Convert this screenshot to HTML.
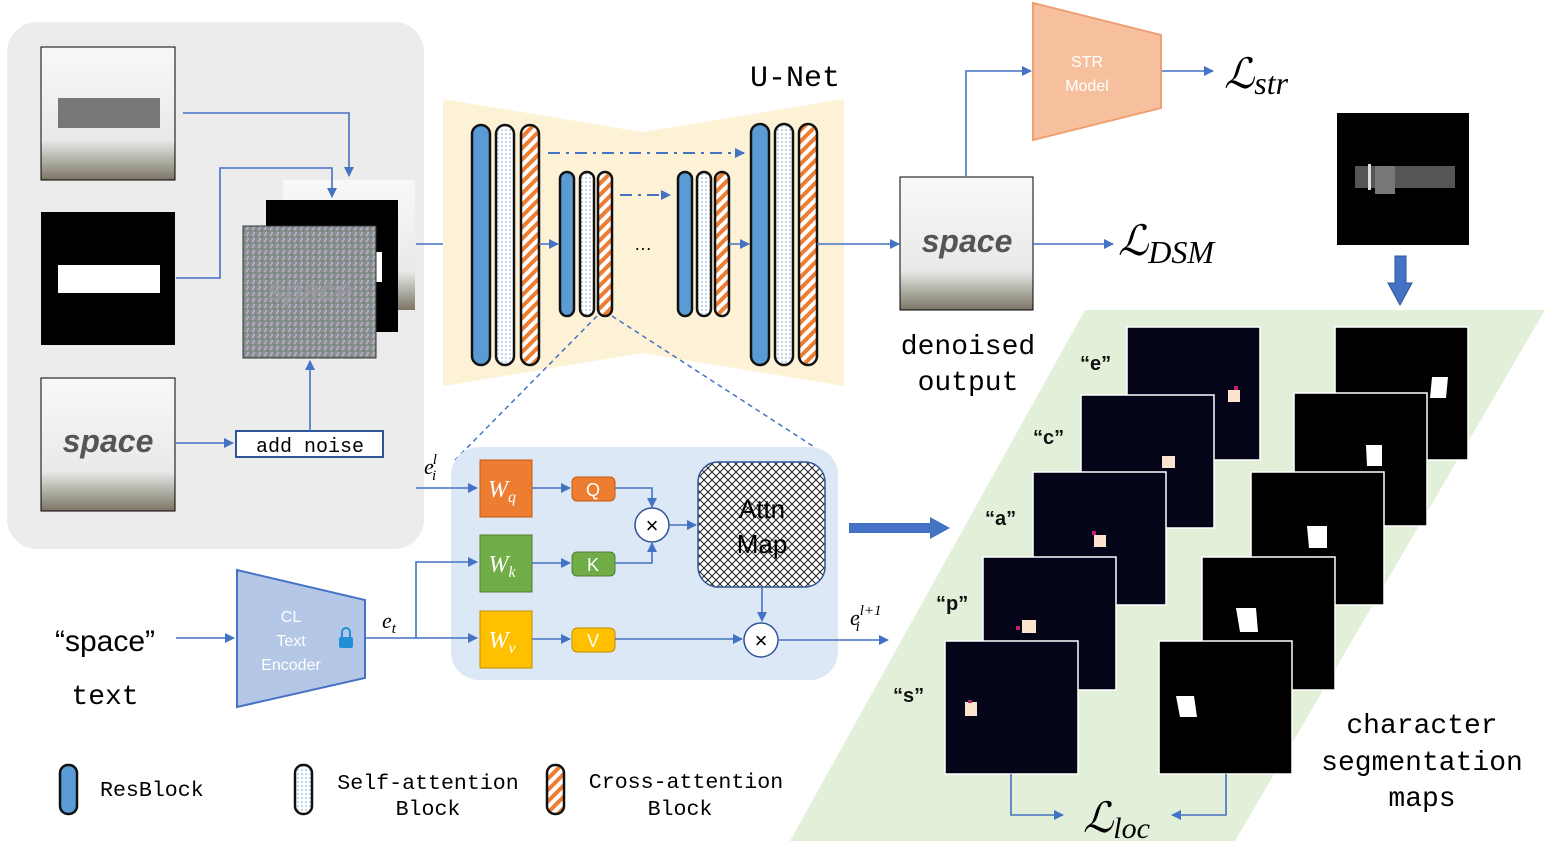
<!DOCTYPE html>
<html><head><meta charset="utf-8"><style>
body{margin:0;background:#fff;width:1545px;height:846px;overflow:hidden}
svg text{font-family:"Liberation Sans",sans-serif}
.mono{font-family:"Liberation Mono","DejaVu Sans Mono",monospace}
.ser{font-family:"Liberation Serif",serif;font-style:italic}
</style></head><body>
<svg width="1545" height="846" viewBox="0 0 1545 846" xmlns="http://www.w3.org/2000/svg">
<defs>
<pattern id="dots" width="4" height="4" patternUnits="userSpaceOnUse"><rect width="4" height="4" fill="#fff"/><circle cx="2" cy="2" r="0.8" fill="#7aa6d8"/></pattern>
<pattern id="stripe" width="8" height="8" patternUnits="userSpaceOnUse" patternTransform="rotate(45)"><rect width="8" height="8" fill="#fff"/><rect width="4" height="8" fill="#ed7d31"/></pattern>
<pattern id="hatch" width="8" height="8" patternUnits="userSpaceOnUse"><rect width="8" height="8" fill="#fff"/><path d="M0 0L8 8M8 0L0 8" stroke="#222" stroke-width="1"/></pattern>
<pattern id="noise" width="6" height="6" patternUnits="userSpaceOnUse"><rect width="6" height="6" fill="#8a8f8e"/><rect x="0" y="0" width="2" height="2" fill="#b9a7c4"/><rect x="3" y="2" width="2" height="2" fill="#6f8a7a"/><rect x="1" y="4" width="2" height="2" fill="#a6b0c8"/></pattern>
<linearGradient id="photo" x1="0" y1="0" x2="0" y2="1"><stop offset="0" stop-color="#f8f8f8"/><stop offset="0.7" stop-color="#e8eaea"/><stop offset="0.85" stop-color="#b0b2a6"/><stop offset="1" stop-color="#7d7466"/></linearGradient>
<marker id="ar" markerWidth="10" markerHeight="10" refX="9" refY="5" orient="auto" markerUnits="userSpaceOnUse"><path d="M0,0L10,5L0,10z" fill="#4472c4"/></marker>
</defs>

<rect x="7" y="22" width="417" height="527" rx="30" fill="#ececec"/>
<rect x="41" y="47" width="134" height="133" fill="url(#photo)" stroke="#000"/>
<rect x="58" y="98" width="102" height="30" fill="#777"/>
<rect x="41" y="212" width="134" height="133" fill="#000"/>
<rect x="58" y="265" width="102" height="28" fill="#fff"/>
<rect x="41" y="378" width="134" height="133" fill="url(#photo)" stroke="#000"/>
<text x="108" y="452" text-anchor="middle" font-size="32" font-weight="bold" font-style="italic" fill="#555">space</text>
<rect x="283" y="180" width="132" height="130" fill="url(#photo)"/>
<rect x="266" y="200" width="132" height="132" fill="#000"/>
<rect x="376" y="252" width="6" height="30" fill="#fff"/>
<rect x="243" y="226" width="133" height="132" fill="url(#noise)" stroke="#333"/>
<text x="310" y="300" text-anchor="middle" font-size="30" font-weight="bold" font-style="italic" fill="#9a9aa0" opacity="0.8">space</text>
<rect x="236" y="431" width="147" height="26" fill="#fff" stroke="#2f5597" stroke-width="2"/>
<text x="310" y="452" class="mono" text-anchor="middle" font-size="20">add noise</text>
<g stroke="#4472c4" stroke-width="1.6" fill="none">
<path d="M183 113H349V176" marker-end="url(#ar)"/>
<path d="M176 278H220V168H332V197" marker-end="url(#ar)"/>
<path d="M176 443H233" marker-end="url(#ar)"/>
<path d="M310 431V361" marker-end="url(#ar)"/>
<path d="M416 244H468" marker-end="url(#ar)"/>
</g>

<path d="M443 99L642 132L844 99V386L642 353L443 386Z" fill="#fdf2d5"/>
<text x="795" y="86" class="mono" text-anchor="middle" font-size="30">U-Net</text>
<g stroke="#111" stroke-width="2.5">
<rect x="472" y="125" width="18" height="240" rx="9" fill="#5b9bd5"/>
<rect x="496" y="125" width="18" height="240" rx="9" fill="url(#dots)"/>
<rect x="521" y="125" width="18" height="240" rx="9" fill="url(#stripe)"/>
<rect x="560" y="172" width="14" height="144" rx="7" fill="#5b9bd5"/>
<rect x="580" y="172" width="14" height="144" rx="7" fill="url(#dots)"/>
<rect x="598" y="172" width="14" height="144" rx="7" fill="url(#stripe)"/>
<rect x="678" y="172" width="14" height="144" rx="7" fill="#5b9bd5"/>
<rect x="697" y="172" width="14" height="144" rx="7" fill="url(#dots)"/>
<rect x="715" y="172" width="14" height="144" rx="7" fill="url(#stripe)"/>
<rect x="751" y="124" width="18" height="241" rx="9" fill="#5b9bd5"/>
<rect x="775" y="124" width="18" height="241" rx="9" fill="url(#dots)"/>
<rect x="799" y="124" width="18" height="241" rx="9" fill="url(#stripe)"/>
</g>
<text x="643" y="250" text-anchor="middle" font-size="18">…</text>
<g stroke="#4472c4" stroke-width="2" fill="none">
<path d="M548 153H744" stroke-dasharray="12,6,3,6" marker-end="url(#ar)"/>
<path d="M620 195H670" stroke-dasharray="12,6,3,6" marker-end="url(#ar)"/>
<path d="M539 244H558" marker-end="url(#ar)" stroke-width="1.6"/>
<path d="M729 244H749" marker-end="url(#ar)" stroke-width="1.6"/>
<path d="M817 244H899" marker-end="url(#ar)" stroke-width="1.6"/>
<path d="M597 316L455 460" stroke-dasharray="5,4" stroke-width="1.5"/>
<path d="M612 316L822 452" stroke-dasharray="5,4" stroke-width="1.5"/>
</g>

<rect x="900" y="177" width="133" height="133" fill="url(#photo)" stroke="#000"/>
<text x="967" y="252" text-anchor="middle" font-size="32" font-weight="bold" font-style="italic" fill="#555">space</text>
<text x="968" y="354" class="mono" text-anchor="middle" font-size="28">denoised</text>
<text x="968" y="390" class="mono" text-anchor="middle" font-size="28">output</text>
<g stroke="#4472c4" stroke-width="1.6" fill="none">
<path d="M966 177V71H1031" marker-end="url(#ar)"/>
<path d="M1161 71H1213" marker-end="url(#ar)"/>
<path d="M1033 244H1113" marker-end="url(#ar)"/>
</g>
<path d="M1033 3L1161 35V108L1033 140Z" fill="#f6c09f" stroke="#f0a070" stroke-width="2"/>
<text x="1087" y="67" text-anchor="middle" font-size="16" fill="#fff">STR</text>
<text x="1087" y="91" text-anchor="middle" font-size="16" fill="#fff">Model</text>
<text x="1224" y="88" class="ser" font-size="42">ℒ<tspan font-size="32" dy="6">str</tspan></text>
<text x="1118" y="255" class="ser" font-size="42">ℒ<tspan font-size="32" dy="8">DSM</tspan></text>

<rect x="1337" y="113" width="132" height="132" fill="#000"/>
<rect x="1355" y="166" width="100" height="22" fill="#555"/>
<rect x="1375" y="166" width="20" height="28" fill="#777"/>
<rect x="1368" y="164" width="3" height="26" fill="#ddd"/>
<path d="M1395 256H1406V283H1412L1400 305L1388 283H1395Z" fill="#4472c4" stroke="#2f5597"/>

<path d="M1085 310H1545L1235 841H790Z" fill="#e2efd9"/>
<g stroke="#fff" stroke-width="1.5">
<rect x="1127" y="327" width="133" height="133" fill="#05051a"/>
<rect x="1081" y="395" width="133" height="133" fill="#05051a"/>
<rect x="1033" y="472" width="133" height="133" fill="#05051a"/>
<rect x="983" y="557" width="133" height="133" fill="#05051a"/>
<rect x="945" y="641" width="133" height="133" fill="#05051a"/>
<rect x="1335" y="327" width="133" height="133" fill="#000"/>
<rect x="1294" y="393" width="133" height="133" fill="#000"/>
<rect x="1251" y="472" width="133" height="133" fill="#000"/>
<rect x="1202" y="557" width="133" height="133" fill="#000"/>
<rect x="1159" y="641" width="133" height="133" fill="#000"/>
</g>
<g fill="#fbe3d0">
<rect x="1228" y="390" width="12" height="12"/><rect x="1162" y="456" width="13" height="12"/>
<rect x="1094" y="535" width="12" height="12"/><rect x="1022" y="620" width="14" height="13"/>
<rect x="965" y="702" width="12" height="14"/>
</g>
<g fill="#c0206a"><rect x="1234" y="386" width="4" height="4"/><rect x="1092" y="531" width="4" height="4"/><rect x="1016" y="626" width="4" height="4"/><rect x="968" y="700" width="4" height="3"/></g>
<g fill="#fff">
<path d="M1432 377H1448L1446 398H1430Z"/><path d="M1366 445H1382V466H1367Z"/>
<path d="M1307 526H1327V548H1309Z"/><path d="M1236 608H1256L1258 632H1240Z"/>
<path d="M1176 696H1194L1197 717H1180Z"/>
</g>
<g font-weight="bold" font-size="20" fill="#111">
<text x="1080" y="370">“e”</text><text x="1033" y="444">“c”</text>
<text x="985" y="525">“a”</text><text x="936" y="610">“p”</text><text x="893" y="702">“s”</text>
</g>
<g font-size="28" text-anchor="middle">
<text x="1422" y="733" class="mono">character</text>
<text x="1422" y="770" class="mono">segmentation</text>
<text x="1422" y="806" class="mono">maps</text>
</g>
<g stroke="#4472c4" stroke-width="1.6" fill="none">
<path d="M1011 774V815H1063" marker-end="url(#ar)"/>
<path d="M1226 774V815H1172" marker-end="url(#ar)"/>
</g>
<text x="1083" y="832" class="ser" font-size="42">ℒ<tspan font-size="30" dy="6">loc</tspan></text>

<path d="M849 523H930V517L950 528L930 539V533H849Z" fill="#4472c4"/>

<rect x="451" y="447" width="387" height="233" rx="28" fill="#dce8f5"/>
<rect x="480" y="460" width="52" height="57" fill="#ed7d31" stroke="#c55a11"/>
<rect x="480" y="535" width="52" height="57" fill="#70ad47" stroke="#507e32"/>
<rect x="480" y="611" width="52" height="57" fill="#ffc000" stroke="#bf9000"/>
<g font-size="24" fill="#fff" text-anchor="middle">
<text x="502" y="497" class="ser">W<tspan font-size="16" dy="5">q</tspan></text>
<text x="502" y="572" class="ser">W<tspan font-size="16" dy="5">k</tspan></text>
<text x="502" y="648" class="ser">W<tspan font-size="16" dy="5">v</tspan></text>
</g>
<rect x="572" y="477" width="43" height="24" rx="5" fill="#ed7d31" stroke="#c55a11"/>
<rect x="572" y="552" width="43" height="24" rx="5" fill="#70ad47" stroke="#507e32"/>
<rect x="572" y="628" width="43" height="24" rx="5" fill="#ffc000" stroke="#bf9000"/>
<g fill="#fff" font-size="18" text-anchor="middle"><text x="593" y="496">Q</text><text x="593" y="571">K</text><text x="593" y="647">V</text></g>
<rect x="698" y="462" width="127" height="125" rx="20" fill="url(#hatch)" stroke="#2f5597" stroke-width="1.5"/>
<text x="762" y="518" text-anchor="middle" font-size="26">Attn</text>
<text x="762" y="553" text-anchor="middle" font-size="26">Map</text>
<g stroke="#4472c4" stroke-width="1.6" fill="none">
<path d="M416 488H477" marker-end="url(#ar)"/>
<path d="M532 488H570" marker-end="url(#ar)"/>
<path d="M532 563H570" marker-end="url(#ar)"/>
<path d="M532 639H570" marker-end="url(#ar)"/>
<path d="M615 488H652V507" marker-end="url(#ar)"/>
<path d="M615 563H652V543" marker-end="url(#ar)"/>
<path d="M669 525H696" marker-end="url(#ar)"/>
<path d="M615 639H742" marker-end="url(#ar)"/>
<path d="M762 587V621" marker-end="url(#ar)"/>
<path d="M779 640H888" marker-end="url(#ar)"/>
<path d="M366 638H477" marker-end="url(#ar)"/>
<path d="M416 638V562H477" marker-end="url(#ar)"/>
<path d="M176 638H234" marker-end="url(#ar)"/>
</g>
<circle cx="652" cy="525" r="17" fill="#fff" stroke="#2f5597" stroke-width="1.5"/>
<text x="652" y="533" text-anchor="middle" font-size="22">×</text>
<circle cx="761" cy="640" r="17" fill="#fff" stroke="#2f5597" stroke-width="1.5"/>
<text x="761" y="648" text-anchor="middle" font-size="22">×</text>
<text x="424" y="474" class="ser" font-size="22">e<tspan font-size="15" dx="-1" dy="-10">l</tspan><tspan font-size="15" dx="-5" dy="16">i</tspan></text>
<text x="850" y="625" class="ser" font-size="22">e<tspan font-size="15" dy="-10">l+1</tspan><tspan font-size="15" dx="-26" dy="16">i</tspan></text>
<text x="382" y="628" class="ser" font-size="22">e<tspan font-size="15" dy="5">t</tspan></text>

<path d="M237 570L365 600V678L237 707Z" fill="#b4c7e7" stroke="#4472c4" stroke-width="2"/>
<g fill="#fff" font-size="16" text-anchor="middle"><text x="291" y="622">CL</text><text x="291" y="646">Text</text><text x="291" y="670">Encoder</text></g>
<rect x="339" y="637" width="14" height="11" rx="2" fill="#1f8fd6"/>
<path d="M342 637V632A4 4 0 0 1 350 632V637" stroke="#1f8fd6" stroke-width="2" fill="none"/>
<text x="105" y="651" text-anchor="middle" font-size="30">“space”</text>
<text x="105" y="704" class="mono" text-anchor="middle" font-size="28">text</text>

<g stroke="#111" stroke-width="2.5">
<rect x="60" y="765" width="17" height="49" rx="8" fill="#5b9bd5"/>
<rect x="295" y="765" width="17" height="49" rx="8" fill="url(#dots)"/>
<rect x="547" y="765" width="17" height="49" rx="8" fill="url(#stripe)"/>
</g>
<g font-size="21.6">
<text x="100" y="796" class="mono">ResBlock</text>
<text x="428" y="789" class="mono" text-anchor="middle">Self-attention</text>
<text x="428" y="815" class="mono" text-anchor="middle">Block</text>
<text x="686" y="788" class="mono" text-anchor="middle">Cross-attention</text>
<text x="680" y="815" class="mono" text-anchor="middle">Block</text>
</g>
</svg>
</body></html>
